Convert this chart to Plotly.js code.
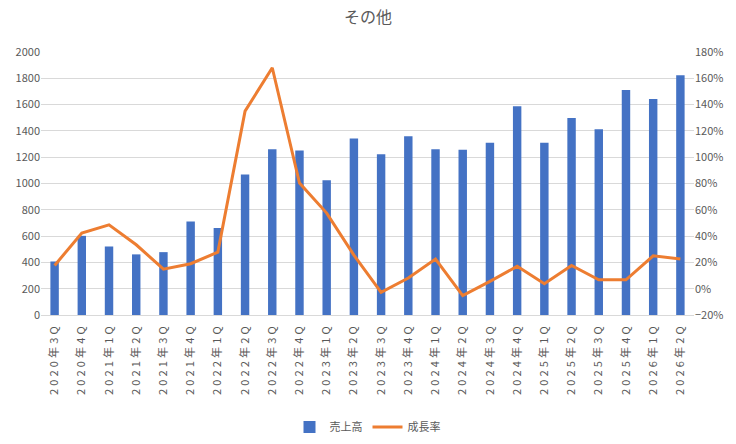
<!DOCTYPE html>
<html>
<head>
<meta charset="utf-8">
<script src="https://cdn.plot.ly/plotly-3.0.1.min.js"></script>
<style>
    html, body { margin: 0; padding: 0; background: #fff; }
    #chart { width: 736px; height: 444px; }
</style>
</head>
<body>
<div id="chart"></div>
<script>
// Quarter labels (x axis)
const quarters = [
    '2020年3Q', '2020年4Q', '2021年1Q', '2021年2Q', '2021年3Q', '2021年4Q',
    '2022年1Q', '2022年2Q', '2022年3Q', '2022年4Q', '2023年1Q', '2023年2Q',
    '2023年3Q', '2023年4Q', '2024年1Q', '2024年2Q', '2024年3Q', '2024年4Q',
    '2025年1Q', '2025年2Q', '2025年3Q', '2025年4Q', '2026年1Q', '2026年2Q',
];

// 売上高 (left axis)
const sales = [
    407, 602, 521, 461, 478, 711, 661, 1068, 1261, 1251, 1025, 1342,
    1223, 1359, 1261, 1256, 1309, 1587, 1309, 1499, 1413, 1711, 1643, 1823,
];

// 成長率 in % (right axis)
const growth = [
    17.7, 42.3, 48.6, 33.4, 14.9, 19, 27.8, 135, 168, 80.3, 57.5, 25.6,
    -2.8, 8.1, 22.5, -5.3, 5.6, 17, 3.8, 17.7, 6.8, 6.8, 25, 22.5,
];

const FONT = '"Noto Sans CJK JP", "Noto Sans", sans-serif';
const TEXT_COLOR = '#595959';

// Excel draws these with wide letter spacing (space + hair space)
const tickText = quarters.map(q => q.split('').join(' \u200A'));

const barTrace = {
    x: quarters,
    y: sales,
    type: 'bar',
    name: '売上高',
    marker: { color: '#4472C4' },
    width: 0.31,
    yaxis: 'y',
};

const lineTrace = {
    x: quarters,
    y: growth,
    type: 'scatter',
    mode: 'lines',
    name: '成長率',
    line: { color: '#ED7D31', width: 3 },
    yaxis: 'y2',
};

const layout = {
    width: 736,
    height: 444,
    margin: { l: 41, r: 42, t: 52, b: 129, autoexpand: false },
    paper_bgcolor: '#ffffff',
    plot_bgcolor: '#ffffff',
    font: { family: FONT, color: TEXT_COLOR, size: 11 },
    title: {
        text: 'その他',
        font: { family: FONT, size: 16, color: TEXT_COLOR },
        x: 0.5,
        xanchor: 'center',
        y: 0.96,
        yanchor: 'middle',
    },
    showlegend: true,
    legend: {
        orientation: 'h',
        x: 0.5,
        xanchor: 'center',
        y: -0.426,
        yanchor: 'middle',
        font: { family: FONT, size: 11, color: TEXT_COLOR },
    },
    xaxis: {
        type: 'category',
        tickvals: quarters,
        ticktext: tickText,
        tickangle: -90,
        tickfont: { family: FONT, size: 11, color: TEXT_COLOR },
        ticklabelstandoff: 6,
        automargin: false,
        showgrid: false,
        showline: true,
        linecolor: '#d9d9d9',
        ticks: '',
        fixedrange: true,
    },
    yaxis: {
        range: [0, 2000],
        dtick: 200,
        showgrid: true,
        gridcolor: '#d9d9d9',
        zeroline: false,
        ticks: '',
        automargin: false,
        tickfont: { family: FONT, size: 11, color: TEXT_COLOR },
        fixedrange: true,
    },
    yaxis2: {
        overlaying: 'y',
        side: 'right',
        range: [-20, 180],
        dtick: 20,
        ticksuffix: '%',
        showgrid: false,
        zeroline: false,
        ticks: '',
        automargin: false,
        tickfont: { family: FONT, size: 11, color: TEXT_COLOR },
        fixedrange: true,
    },
};

Plotly.newPlot('chart', [barTrace, lineTrace], layout, { displayModeBar: false, staticPlot: true });
</script>
</body>
</html>
